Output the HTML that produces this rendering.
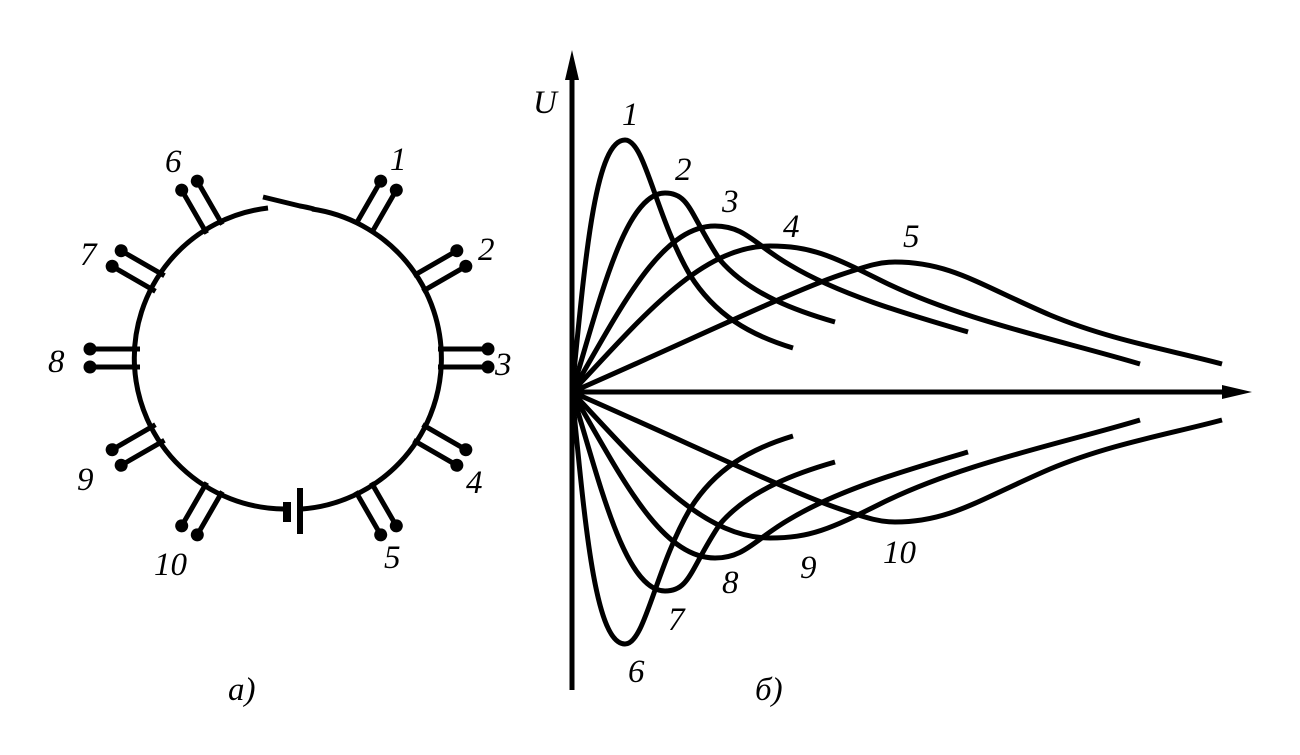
<!DOCTYPE html>
<html><head><meta charset="utf-8"><style>
html,body{margin:0;padding:0;background:#fff}
svg text{font-family:"Liberation Serif",serif;font-style:italic;font-size:33px;fill:#000}
</style></head><body>
<svg width="1300" height="750" viewBox="0 0 1300 750" xmlns="http://www.w3.org/2000/svg">
<g fill="none" stroke="#000" stroke-width="5" stroke-linecap="butt">
<path d="M268,208 A151,151 0 0 0 284,509"/>
<path d="M302,509 A151,151 0 0 0 312,209"/>
<path d="M263,197 L300,206 Q306,207 314,209" stroke-linejoin="round"/>
</g>
<rect x="283" y="502" width="8" height="20" fill="#000"/>
<rect x="297" y="488" width="6" height="46" fill="#000"/>
<g stroke="#000" stroke-width="5" fill="#000">
<g transform="translate(289,358) rotate(-60)"><line x1="149" y1="-9" x2="199" y2="-9"/><line x1="149" y1="9" x2="199" y2="9"/><circle cx="199" cy="-9" r="6.5" stroke="none"/><circle cx="199" cy="9" r="6.5" stroke="none"/></g>
<g transform="translate(289,358) rotate(-30)"><line x1="149" y1="-9" x2="199" y2="-9"/><line x1="149" y1="9" x2="199" y2="9"/><circle cx="199" cy="-9" r="6.5" stroke="none"/><circle cx="199" cy="9" r="6.5" stroke="none"/></g>
<g transform="translate(289,358) rotate(0)"><line x1="149" y1="-9" x2="199" y2="-9"/><line x1="149" y1="9" x2="199" y2="9"/><circle cx="199" cy="-9" r="6.5" stroke="none"/><circle cx="199" cy="9" r="6.5" stroke="none"/></g>
<g transform="translate(289,358) rotate(30)"><line x1="149" y1="-9" x2="199" y2="-9"/><line x1="149" y1="9" x2="199" y2="9"/><circle cx="199" cy="-9" r="6.5" stroke="none"/><circle cx="199" cy="9" r="6.5" stroke="none"/></g>
<g transform="translate(289,358) rotate(60)"><line x1="149" y1="-9" x2="199" y2="-9"/><line x1="149" y1="9" x2="199" y2="9"/><circle cx="199" cy="-9" r="6.5" stroke="none"/><circle cx="199" cy="9" r="6.5" stroke="none"/></g>
<g transform="translate(289,358) rotate(120)"><line x1="149" y1="-9" x2="199" y2="-9"/><line x1="149" y1="9" x2="199" y2="9"/><circle cx="199" cy="-9" r="6.5" stroke="none"/><circle cx="199" cy="9" r="6.5" stroke="none"/></g>
<g transform="translate(289,358) rotate(150)"><line x1="149" y1="-9" x2="199" y2="-9"/><line x1="149" y1="9" x2="199" y2="9"/><circle cx="199" cy="-9" r="6.5" stroke="none"/><circle cx="199" cy="9" r="6.5" stroke="none"/></g>
<g transform="translate(289,358) rotate(180)"><line x1="149" y1="-9" x2="199" y2="-9"/><line x1="149" y1="9" x2="199" y2="9"/><circle cx="199" cy="-9" r="6.5" stroke="none"/><circle cx="199" cy="9" r="6.5" stroke="none"/></g>
<g transform="translate(289,358) rotate(210)"><line x1="149" y1="-9" x2="199" y2="-9"/><line x1="149" y1="9" x2="199" y2="9"/><circle cx="199" cy="-9" r="6.5" stroke="none"/><circle cx="199" cy="9" r="6.5" stroke="none"/></g>
<g transform="translate(289,358) rotate(240)"><line x1="149" y1="-9" x2="199" y2="-9"/><line x1="149" y1="9" x2="199" y2="9"/><circle cx="199" cy="-9" r="6.5" stroke="none"/><circle cx="199" cy="9" r="6.5" stroke="none"/></g>
</g>
<text x="390" y="170">1</text>
<text x="478" y="260">2</text>
<text x="495" y="375">3</text>
<text x="466" y="493">4</text>
<text x="384" y="568">5</text>
<text x="165" y="172">6</text>
<text x="80" y="265">7</text>
<text x="48" y="372">8</text>
<text x="77" y="490">9</text>
<text x="154" y="575">10</text>
<text x="228" y="700">а)</text>

<g stroke="#000" stroke-width="5" fill="none">
<line x1="572" y1="70" x2="572" y2="690"/>
<line x1="572" y1="392" x2="1230" y2="392"/>
</g>
<polygon points="572,50 565,80 579,80" fill="#000"/>
<polygon points="1252,392 1222,385 1222,399" fill="#000"/>
<text x="533" y="113">U</text>

<g id="up" fill="none" stroke="#000" stroke-width="5" stroke-linejoin="round">
<path d="M572,392 C585,260 595,140 625,140 C645,140 655,215 690,275 C715,315 750,335 793,348"/>
<path d="M572,392 C600,300 625,193 665,193 C690,193 690,215 720,260 C750,295 800,312 835,322"/>
<path d="M572,392 C620,310 660,226 715,226 C745,226 755,245 790,265 C840,295 910,315 968,332"/>
<path d="M572,392 C640,320 700,246 770,246 C810,246 830,255 880,280 C960,320 1060,340 1140,364"/>
<path d="M572,392 C680,345 790,292 840,275 C870,265 880,262 895,262 C950,262 980,285 1050,315 C1110,340 1170,350 1222,364"/>
</g>
<use href="#up" transform="translate(0,784) scale(1,-1)"/>
<text x="622" y="125">1</text>
<text x="675" y="180">2</text>
<text x="722" y="212">3</text>
<text x="783" y="237">4</text>
<text x="903" y="247">5</text>
<text x="628" y="682">6</text>
<text x="668" y="630">7</text>
<text x="722" y="593">8</text>
<text x="800" y="578">9</text>
<text x="883" y="563">10</text>
<text x="755" y="700">б)</text>
</svg>
</body></html>
